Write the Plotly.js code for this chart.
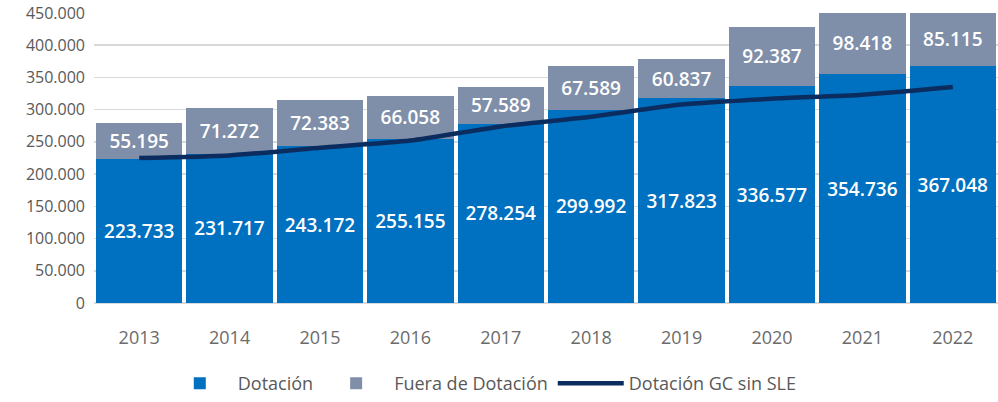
<!DOCTYPE html>
<html><head><meta charset="utf-8">
<script src="https://cdn.plot.ly/plotly-3.0.1.min.js"></script>
<style>body{margin:0;background:#fff}#c{width:998px;height:402px}</style>
</head><body><div id="c"></div>
<script>
const years = ['2013','2014','2015','2016','2017','2018','2019','2020','2021','2022'];
const dotacion = [223733,231717,243172,255155,278254,299992,317823,336577,354736,367048];
const fuera = [55195,71272,72383,66058,57589,67589,60837,92387,98418,85115];
const gcSinSle = [225000,229000,241000,252000,274000,289000,308000,317000,323000,335000];
const yTicks = [0,50000,100000,150000,200000,250000,300000,350000,400000,450000];

const FONT = '"Segoe UI","Open Sans","Noto Sans",sans-serif';
const traces = [
  {type:'bar', name:'Dotación', x:years, y:dotacion, marker:{color:'#0070C0'},
   texttemplate:'%{y:,d}', textposition:'inside', insidetextanchor:'middle',
   textfont:{color:'#ffffff', size:19, family:FONT, weight:600}, constraintext:'none', hoverinfo:'skip'},
  {type:'bar', name:'Fuera de Dotación', x:years, y:fuera, marker:{color:'#7F8FA9'},
   texttemplate:'%{y:,d}', textposition:'inside', insidetextanchor:'middle',
   textfont:{color:'#ffffff', size:19, family:FONT, weight:600}, constraintext:'none', hoverinfo:'skip'},
  {type:'scatter', mode:'lines', name:'Dotación GC sin SLE', x:years, y:gcSinSle,
   line:{color:'#0B2C5F', width:4.5, shape:'spline', smoothing:0.6}, hoverinfo:'skip'}
];
const layout = {
  width:998, height:402, barmode:'stack', bargap:0.045,
  separators:',.',
  margin:{l:94, r:0, t:13, b:99},
  paper_bgcolor:'#fff', plot_bgcolor:'#fff',
  font:{family:FONT, color:'#595959'},
  xaxis:{type:'category', tickfont:{size:18, color:'#6b6b6b'}, ticks:'', showline:false,
         showgrid:false, zeroline:false, ticklabelstandoff:22},
  yaxis:{range:[0,450000], tickvals:yTicks, tickformat:',d', tickfont:{size:16, color:'#595959'},
         showgrid:true, gridcolor:'#D9D9D9', gridwidth:1.5, zeroline:true, zerolinecolor:'#D9D9D9',
         zerolinewidth:1.5, ticks:'', ticklabelstandoff:8, fixedrange:true},
  legend:{orientation:'h', x:0.075, xanchor:'left', y:-0.215, yanchor:'top',
          font:{size:18, color:'#595959'}, itemwidth:66, traceorder:'normal'},
  showlegend:true
};
Plotly.newPlot('c', traces, layout, {displayModeBar:false, staticPlot:true});
</script></body></html>
